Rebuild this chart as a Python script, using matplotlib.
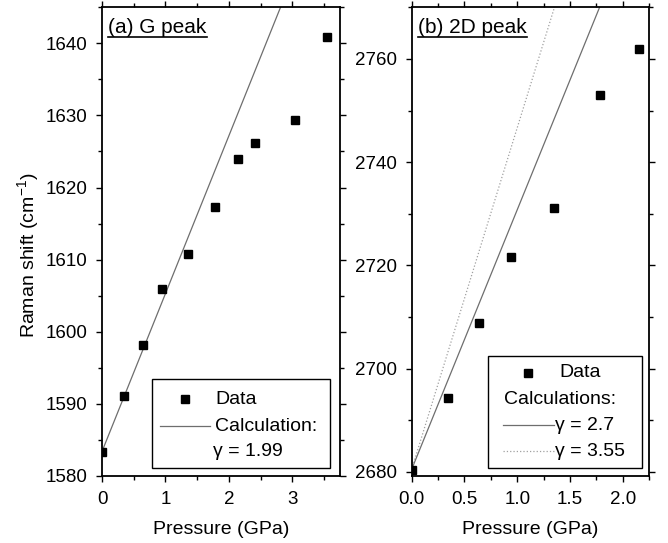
import matplotlib
matplotlib.use("Agg")
import matplotlib.pyplot as plt
from matplotlib.lines import Line2D
from matplotlib.patches import Rectangle

plt.rcParams["font.family"] = ["Liberation Sans", "DejaVu Sans"]
plt.rcParams["mathtext.fontset"] = "custom"
plt.rcParams["mathtext.rm"] = "Liberation Sans"
plt.rcParams["mathtext.default"] = "regular"

# (a) G peak
g_pressure = [0.0, 0.34, 0.64, 0.95, 1.36, 1.78, 2.14, 2.41, 3.04, 3.55]
g_shift = [1583.3, 1591.1, 1598.2, 1605.9, 1610.8, 1617.3, 1623.9, 1626.2, 1629.4, 1640.9]
g_calc_pressure = [0.0, 3.0]
g_calc_shift = [1583.4, 1649.1]

# (b) 2D peak
d_pressure = [0.0, 0.34, 0.64, 0.94, 1.35, 1.78, 2.15]
d_shift = [2680.3, 2694.4, 2708.8, 2721.6, 2731.2, 2753.1, 2761.9]
d_calc_pressure = [0.0, 2.0]
d_calc_27 = [2680.5, 2781.1]
d_calc_355 = [2680.5, 2812.9]

LINE_GREY = "#6e6e6e"
DOT_GREY = "#a0a0a0"


def style_axis(ax, xmajor, xminor, ymajor, yminor):
    ax.set_xticks(xmajor)
    ax.set_xticks(xminor, minor=True)
    ax.set_yticks(ymajor)
    ax.set_yticks(yminor, minor=True)
    ax.tick_params(which="both", direction="out", top=True, right=True, width=1.0)
    ax.tick_params(which="major", length=4.5, labelsize=13.5)
    ax.tick_params(which="minor", length=2.8)
    ax.tick_params(axis="x", pad=6)
    ax.tick_params(axis="y", pad=6)
    for sp in ax.spines.values():
        sp.set_linewidth(1.3)
    ax.set_xlabel("Pressure (GPa)", fontsize=14, labelpad=10)


def legend_box(ax, x0, y0, x1, y1):
    ax.add_patch(Rectangle((x0, y0), x1 - x0, y1 - y0, transform=ax.transAxes,
                           facecolor="white", edgecolor="black", lw=1.0, zorder=5))


def panel_title(fig, ax, label, x):
    t = ax.text(x, 0.9445, label, transform=ax.transAxes, fontsize=15,
                va="baseline", ha="left", zorder=6)
    fig.canvas.draw()
    bb = t.get_window_extent()
    inv = ax.transAxes.inverted()
    (ax0, ay), (ax1, _) = inv.transform([(bb.x0, bb.y0 + 0.5), (bb.x1, bb.y0)])
    ax.add_line(Line2D([ax0, ax1], [ay, ay], transform=ax.transAxes,
                       color="black", lw=1.2, zorder=6))


fig = plt.figure(figsize=(6.68, 5.43), dpi=100)
ax1 = fig.add_axes([0.1527, 0.1234, 0.3563, 0.8632])
ax2 = fig.add_axes([0.6163, 0.1234, 0.3557, 0.8632])

# panel (a)
ax1.plot(g_calc_pressure, g_calc_shift, color=LINE_GREY, lw=0.9)
ax1.plot(g_pressure, g_shift, "s", color="black", ms=5.5, zorder=4)
ax1.set_xlim(0, 3.75)
ax1.set_ylim(1580, 1645)
style_axis(ax1, [0, 1, 2, 3], [0.5, 1.5, 2.5, 3.5],
           [1580, 1590, 1600, 1610, 1620, 1630, 1640],
           [1585, 1595, 1605, 1615, 1625, 1635, 1645])
ax1.set_ylabel("Raman shift (cm$^{-1}$)", fontsize=14)
ax1.yaxis.set_label_coords(-0.255, 0.47)

legend_box(ax1, 0.21, 0.016, 0.96, 0.206)
kw = dict(transform=ax1.transAxes, clip_on=False, zorder=6)
ax1.plot([0.347], [0.1635], "s", color="black", ms=5.5, **kw)
ax1.plot([0.245, 0.455], [0.1066, 0.1066], color=LINE_GREY, lw=0.9, **kw)
ax1.text(0.4755, 0.1635, "Data", fontsize=14, va="center", transform=ax1.transAxes, zorder=6)
ax1.text(0.4755, 0.1066, "Calculation:", fontsize=14, va="center", transform=ax1.transAxes, zorder=6)
ax1.text(0.468, 0.0512, "γ = 1.99", fontsize=14, va="center", transform=ax1.transAxes, zorder=6)

# panel (b)
ax2.plot(d_calc_pressure, d_calc_355, color=DOT_GREY, lw=0.9, ls=":")
ax2.plot(d_calc_pressure, d_calc_27, color=LINE_GREY, lw=0.9)
ax2.plot(d_pressure, d_shift, "s", color="black", ms=5.5, zorder=4)
ax2.set_xlim(0, 2.25)
ax2.set_ylim(2679.2, 2770)
style_axis(ax2, [0.0, 0.5, 1.0, 1.5, 2.0], [0.25, 0.75, 1.25, 1.75, 2.25],
           [2680, 2700, 2720, 2740, 2760], [2690, 2710, 2730, 2750, 2770])
ax2.set_xticklabels(["0.0", "0.5", "1.0", "1.5", "2.0"])

legend_box(ax2, 0.323, 0.017, 0.969, 0.256)
kw = dict(transform=ax2.transAxes, clip_on=False, zorder=6)
ax2.plot([0.4914], [0.2203], "s", color="black", ms=5.5, **kw)
ax2.text(0.622, 0.2203, "Data", fontsize=14, va="center", transform=ax2.transAxes, zorder=6)
ax2.text(0.389, 0.1627, "Calculations:", fontsize=14, va="center", transform=ax2.transAxes, zorder=6)
ax2.plot([0.386, 0.597], [0.1079, 0.1079], color=LINE_GREY, lw=0.9, **kw)
ax2.text(0.604, 0.1079, "γ = 2.7", fontsize=14, va="center", transform=ax2.transAxes, zorder=6)
ax2.plot([0.386, 0.597], [0.0525, 0.0525], color=DOT_GREY, lw=0.9, ls=":", **kw)
ax2.text(0.604, 0.0525, "γ = 3.55", fontsize=14, va="center", transform=ax2.transAxes, zorder=6)

panel_title(fig, ax1, "(a) G peak", 0.0265)
panel_title(fig, ax2, "(b) 2D peak", 0.028)

fig.savefig("out.png", dpi=100)
